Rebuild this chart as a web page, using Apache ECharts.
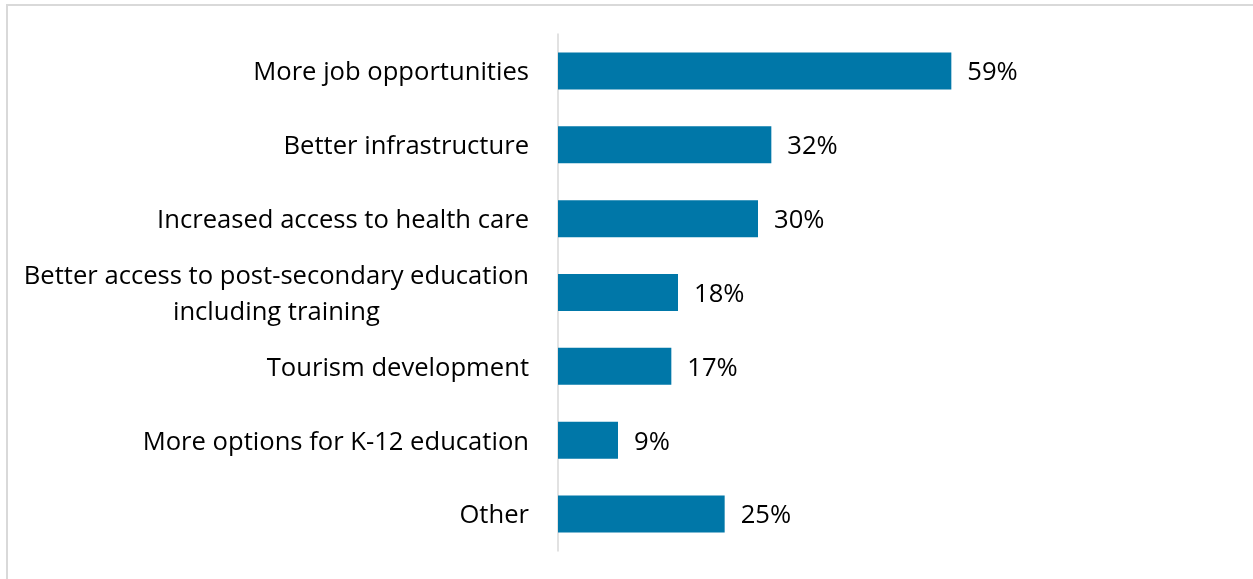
<!DOCTYPE html>
<html>
<head>
<meta charset="utf-8">
<script src="https://cdn.jsdelivr.net/npm/echarts@6/dist/echarts.min.js"></script>
<style>
  html, body { margin: 0; padding: 0; background: #ffffff; }
  #chart { width: 1253px; height: 579px; }
</style>
</head>
<body>
<div id="chart"></div>
<script>
// Reasons given, share of respondents (%)
const categories = [
  'More job opportunities',
  'Better infrastructure',
  'Increased access to health care',
  'Better access to post-secondary education\nincluding training',
  'Tourism development',
  'More options for K-12 education',
  'Other'
];
const values = [59, 32, 30, 18, 17, 9, 25];

const FONT = '"Open Sans", "Noto Sans", sans-serif';
const FONT_SIZE = 25.6;
const chart = echarts.init(document.getElementById('chart'), null, { renderer: 'canvas' });

chart.setOption({
  animation: false,
  backgroundColor: '#ffffff',
  graphic: [{
    type: 'rect',
    shape: { x: 7, y: 5, width: 1400, height: 700 },
    style: { fill: 'none', stroke: '#d9d9d9', lineWidth: 2 },
    silent: true
  }],
  grid: { left: 558, top: 34, width: 400, height: 517 },
  xAxis: {
    type: 'value',
    min: 0,
    max: 60,
    show: false
  },
  yAxis: {
    type: 'category',
    data: categories,
    inverse: true,
    axisLine: { show: true, lineStyle: { color: '#d9d9d9', width: 1.5 } },
    axisTick: { show: false },
    splitLine: { show: false },
    axisLabel: {
      margin: 29,
      color: '#000000',
      fontFamily: FONT,
      fontSize: FONT_SIZE,
      lineHeight: 36,
      formatter: function (v) { return '{c|' + v + '}'; },
      rich: {
        c: {
          align: 'center',
          color: '#000000',
          fontFamily: FONT,
          fontSize: FONT_SIZE,
          lineHeight: 36,
          padding: [4, 0, 0, 0]
        }
      }
    }
  },
  series: [{
    type: 'bar',
    data: values,
    barWidth: 37,
    itemStyle: { color: '#0077a8' },
    label: {
      show: true,
      position: 'right',
      distance: 16,
      offset: [0, 2],
      formatter: '{c}%',
      color: '#000000',
      fontFamily: FONT,
      fontSize: FONT_SIZE
    }
  }]
});
</script>
</body>
</html>
